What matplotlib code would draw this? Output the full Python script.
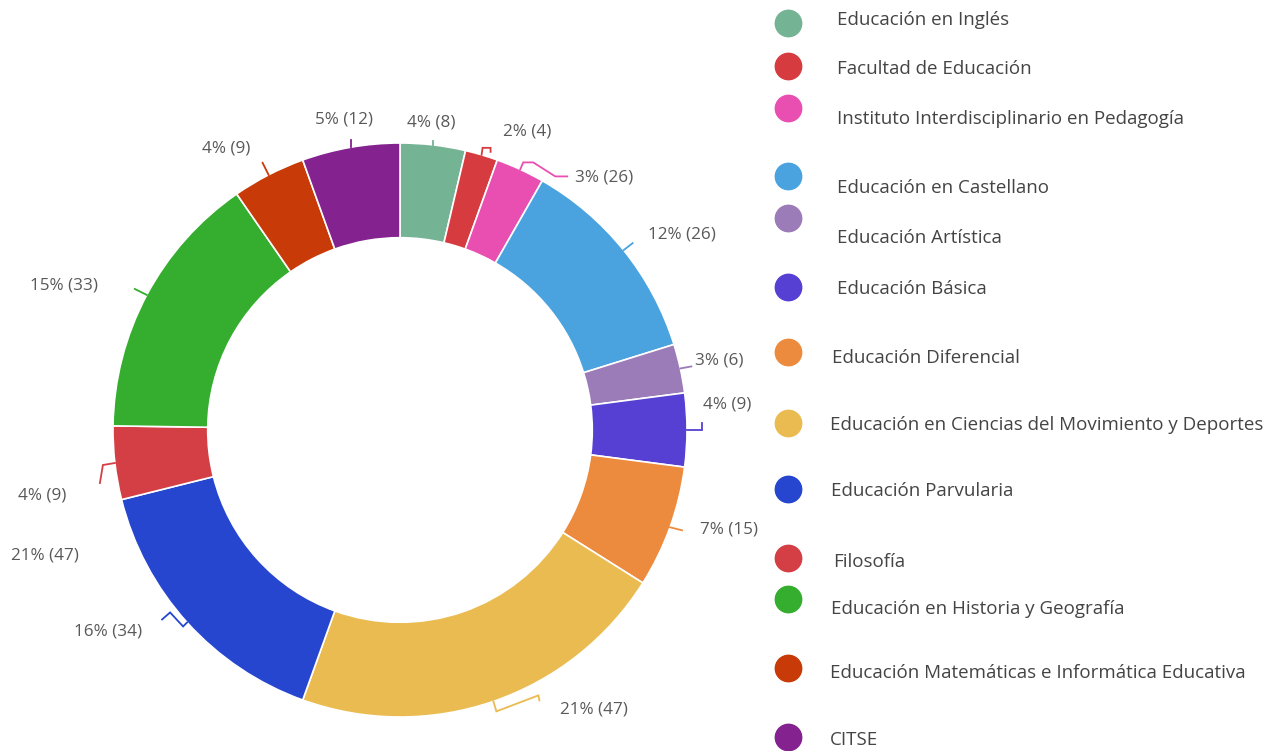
import numpy as np
import matplotlib
matplotlib.use("Agg")
import matplotlib.pyplot as plt

# ---------------- data ----------------
categories = [
    "Educación en Inglés",
    "Facultad de Educación",
    "Instituto Interdisciplinario en Pedagogía",
    "Educación en Castellano",
    "Educación Artística",
    "Educación Básica",
    "Educación Diferencial",
    "Educación en Ciencias del Movimiento y Deportes",
    "Educación Parvularia",
    "Filosofía",
    "Educación en Historia y Geografía",
    "Educación Matemáticas e Informática Educativa",
    "CITSE",
]
counts = [8, 4, 6, 26, 6, 9, 15, 47, 34, 9, 33, 9, 12]
value_labels = ["4% (8)", "2% (4)", "3% (26)", "12% (26)", "3% (6)", "4% (9)",
                "7% (15)", "21% (47)", "16% (34)", "4% (9)", "15% (33)",
                "4% (9)", "5% (12)"]
extra_label = "21% (47)"
colors = ["#74b394", "#d63c3f", "#e94fb1", "#4aa3df", "#9b7bb8", "#5540d3",
          "#ec8a3e", "#eabb50", "#2646cf", "#d43f45", "#35ad2e", "#c83a07",
          "#842290"]

# ---------------- layout ----------------
W, H = 1281, 751
CX, CY, R = 400, 430, 287          # pie centre / radius in pixels
FONT = "Open Sans"
TXT = "#595959"

# leader polylines (pixel offsets from slice mid-point on outer edge)
leaders = [
    [(0, 0), (0, -4)],
    [(0, 0), (1, -7), (9, -7), (9, -3)],
    [(0, 0), (3, -7), (13, -7), (35, 7), (47, 7)],
    [(0, 0), (9, -7)],
    [(0, 0), (11, -2)],
    [(0, 0), (15, 0), (15, -7)],
    [(0, 0), (12, 3)],
    [(0, 0), (3, 10), (45, -6), (46, -1)],
    [(0, 0), (-4, 4), (-17, -10), (-25, -3)],
    [(0, 0), (-12, 2), (-15, 20)],
    [(0, 0), (-12, -6)],
    [(0, 0), (-6, -12)],
    [(0, 0), (0, -7)],
]
# label centres (pixel offsets from slice mid-point)
label_off = [(-2, -22), (46, -23), (84, 8), (58, -16), (39, -8), (40, -25),
             (59, 2), (101, 8), (-79, 9), (-73, 32), (-83, -9), (-42, -26),
             (-7, -28)]
extra_pos = (45, 555)

legend_marker_y = [23, 66, 108, 176, 218, 287, 352, 423, 489, 558, 599, 668, 737]
legend_text_y = [20, 69, 119, 188, 238, 289, 358, 425, 491, 562, 609, 673, 740]
legend_text_x = [837, 837, 837, 837, 837, 837, 832, 830, 831, 833, 831, 830, 830]
legend_marker_x = 788

fig = plt.figure(figsize=(W / 100, H / 100), dpi=100)
ax = fig.add_axes([0, 0, 1, 1])

wedges, _ = ax.pie(counts, colors=colors, startangle=90, counterclock=False,
                   radius=1.0,
                   wedgeprops=dict(width=0.33, edgecolor="white", linewidth=1.2))

ax.set_aspect("auto")
ax.set_xlim(-CX / R, (W - CX) / R)
ax.set_ylim(-(H - CY) / R, CY / R)
ax.axis("off")


def p2d(dx, dy):
    return dx / R, -dy / R


def px(x, y):
    return (x - CX) / R, (CY - y) / R


for w, col, lead, lo, lab in zip(wedges, colors, leaders, label_off, value_labels):
    mid = np.deg2rad((w.theta1 + w.theta2) / 2)
    ax0, ay0 = np.cos(mid), np.sin(mid)
    xs = [ax0 + p2d(dx, dy)[0] for dx, dy in lead]
    ys = [ay0 + p2d(dx, dy)[1] for dx, dy in lead]
    ax.plot(xs, ys, color=col, lw=1.3, solid_joinstyle="miter")
    lx, ly = p2d(*lo)
    ax.text(ax0 + lx, ay0 + ly, lab, ha="center", va="center",
            fontsize=12.3, color=TXT, family=FONT)

ex, ey = px(*extra_pos)
ax.text(ex, ey, extra_label, ha="center", va="center", fontsize=12.3,
        color=TXT, family=FONT)

# legend
for name, col, my, ty, tx in zip(categories, colors, legend_marker_y,
                                 legend_text_y, legend_text_x):
    mx, myd = px(legend_marker_x, my)
    ax.plot([mx], [myd], "o", ms=19, color=col, mec=col)
    tx_d, ty_d = px(tx, ty)
    ax.text(tx_d, ty_d, name, ha="left", va="center", fontsize=13.5,
            color="#444444", family=FONT)

fig.savefig("out.png", dpi=100, facecolor="white")
